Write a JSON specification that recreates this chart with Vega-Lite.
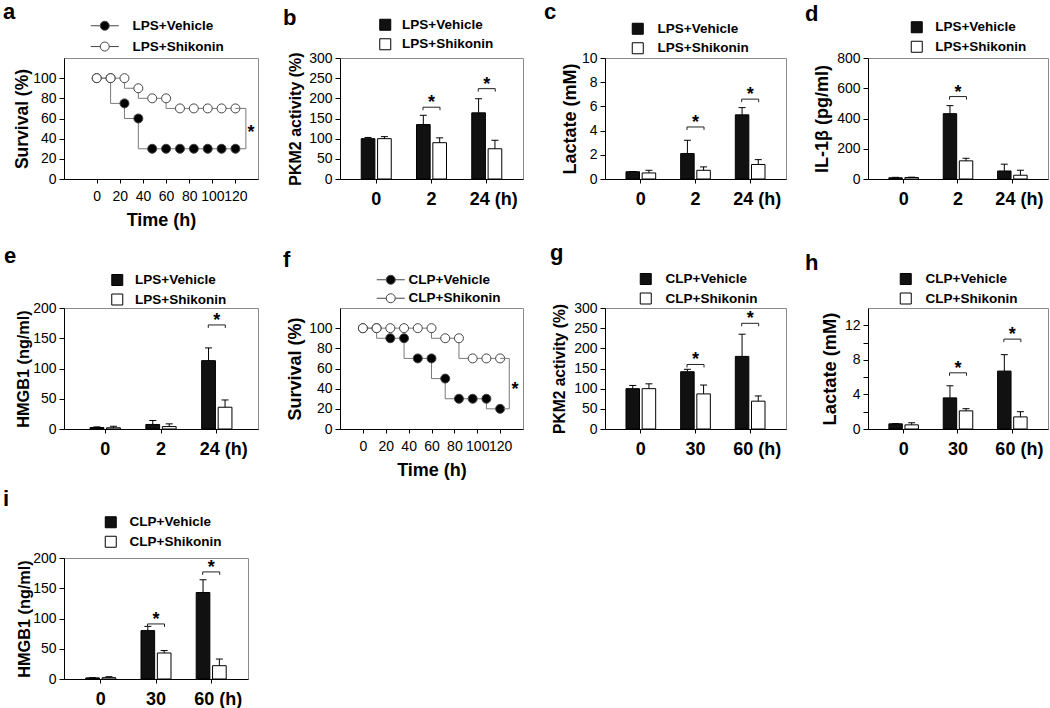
{
  "$schema": "https://vega.github.io/schema/vega-lite/v6.json",
  "padding": {"left": 2, "top": 0, "right": 0, "bottom": 0},
  "background": "white",
  "config": {
    "font": "Liberation Sans",
    "view": {"stroke": "#8a8a8a", "strokeWidth": 1},
    "axis": {"domainColor": "#000000", "tickColor": "#000000", "labelColor": "#000000", "titleColor": "#000000", "titleFontWeight": "bold", "grid": false, "labelFontSize": 14, "tickSize": 5, "labelPadding": 3, "domainWidth": 1, "tickWidth": 1, "labelOverlap": false},
    "title": {"fontSize": 22, "fontWeight": "bold", "anchor": "start", "frame": "group", "color": "#000000", "baseline": "alphabetic"},
    "legend": {"labelFontSize": 13.5, "labelFontWeight": "bold", "labelColor": "#000000", "padding": 0, "symbolStrokeColor": "#000000", "symbolStrokeWidth": 1, "symbolOpacity": 1}
  },
  "resolve": {"scale": {"fill": "independent", "xOffset": "independent"}, "legend": {"fill": "independent"}},
  "columns": 4,
  "align": "each",
  "bounds": "flush",
  "spacing": {"row": 129, "column": 82},
  "concat": [
    {
      "title": {"text": "a", "dx": -61, "offset": -5},
      "width": 194, "height": 121,
      "layer": [
        {
          "data": {"values": [
            {"t": 0, "s": 100, "group": "LPS+Vehicle"}, {"t": 12, "s": 100, "group": "LPS+Vehicle"}, {"t": 24, "s": 75, "group": "LPS+Vehicle"}, {"t": 36, "s": 60, "group": "LPS+Vehicle"}, {"t": 48, "s": 30, "group": "LPS+Vehicle"}, {"t": 60, "s": 30, "group": "LPS+Vehicle"}, {"t": 72, "s": 30, "group": "LPS+Vehicle"}, {"t": 84, "s": 30, "group": "LPS+Vehicle"}, {"t": 96, "s": 30, "group": "LPS+Vehicle"}, {"t": 108, "s": 30, "group": "LPS+Vehicle"}, {"t": 120, "s": 30, "group": "LPS+Vehicle"},
            {"t": 0, "s": 100, "group": "LPS+Shikonin"}, {"t": 12, "s": 100, "group": "LPS+Shikonin"}, {"t": 24, "s": 100, "group": "LPS+Shikonin"}, {"t": 36, "s": 90, "group": "LPS+Shikonin"}, {"t": 48, "s": 80, "group": "LPS+Shikonin"}, {"t": 60, "s": 80, "group": "LPS+Shikonin"}, {"t": 72, "s": 70, "group": "LPS+Shikonin"}, {"t": 84, "s": 70, "group": "LPS+Shikonin"}, {"t": 96, "s": 70, "group": "LPS+Shikonin"}, {"t": 108, "s": 70, "group": "LPS+Shikonin"}, {"t": 120, "s": 70, "group": "LPS+Shikonin"}
          ]},
          "layer": [
            {
              "mark": {"type": "line", "interpolate": "step-before", "color": "#7a7a7a", "strokeWidth": 1},
              "encoding": {
                "x": {"field": "t", "type": "quantitative", "title": "Time (h)", "scale": {"domain": [-28.3, 139.5], "nice": false, "zero": false}, "axis": {"values": [0, 20, 40, 60, 80, 100, 120], "tickCount": 20, "format": "d", "labelOverlap": false, "labelFlush": false, "tickSize": 4, "labelPadding": 6, "titleFontSize": 18, "titlePadding": 8}},
                "y": {"field": "s", "type": "quantitative", "title": "Survival (%)", "scale": {"domain": [0, 120], "nice": false}, "axis": {"values": [0, 20, 40, 60, 80, 100], "tickCount": 20, "format": "d", "titleFontSize": 17.5, "titlePadding": 1}},
                "detail": {"field": "group"}
              }
            },
            {
              "mark": {"type": "point", "filled": true, "size": 81, "stroke": "#444444", "strokeWidth": 1, "opacity": 1},
              "encoding": {
                "x": {"field": "t", "type": "quantitative", "title": "Time (h)"},
                "y": {"field": "s", "type": "quantitative", "title": "Survival (%)"},
                "fill": {"field": "group", "type": "nominal", "scale": {"domain": ["LPS+Vehicle", "LPS+Shikonin"], "range": ["#000000", "#ffffff"]},
                  "legend": {"title": null, "orient": "none", "legendX": 34, "legendY": -39, "symbolType": "M-2.8,0H-0.9M0.9,0H2.8M-0.9,0A0.9,0.9,0,1,0,0.9,0A0.9,0.9,0,1,0,-0.9,0Z", "symbolSize": 100, "symbolStrokeColor": "#444444", "labelOffset": 21, "rowPadding": 5.8}}
              }
            }
          ]
        },
        {
          "data": {"values": [{"t": 120, "s": 70, "k": 1}, {"t": 129, "s": 70, "k": 2}, {"t": 129, "s": 30, "k": 3}, {"t": 124, "s": 30, "k": 4}]},
          "mark": {"type": "line", "color": "#7a7a7a", "strokeWidth": 1},
          "encoding": {"x": {"field": "t", "type": "quantitative", "title": "Time (h)"}, "y": {"field": "s", "type": "quantitative", "title": "Survival (%)"}, "order": {"field": "k", "type": "quantitative"}}
        },
        {
          "data": {"values": [{"t": 133.5, "s": 50}]},
          "mark": {"type": "text", "text": "*", "fontSize": 18, "fontWeight": "bold", "baseline": "middle", "dy": 4, "color": "#000000"},
          "encoding": {"x": {"field": "t", "type": "quantitative", "title": "Time (h)"}, "y": {"field": "s", "type": "quantitative", "title": "Survival (%)"}}
        }
      ]
    },
    {
      "title": {"text": "b", "dx": -57, "offset": -12},
      "width": 183, "height": 121,
      "layer": [
        {
          "data": {"values": [
            {"time": "0", "group": "LPS+Vehicle", "mean": 100, "hi": 103}, {"time": "0", "group": "LPS+Shikonin", "mean": 100, "hi": 105},
            {"time": "2", "group": "LPS+Vehicle", "mean": 135, "hi": 158}, {"time": "2", "group": "LPS+Shikonin", "mean": 90, "hi": 102},
            {"time": "24", "group": "LPS+Vehicle", "mean": 164, "hi": 199}, {"time": "24", "group": "LPS+Shikonin", "mean": 75, "hi": 96}
          ]},
          "layer": [
            {
              "mark": {"type": "bar", "stroke": "#000000", "strokeWidth": 1},
              "encoding": {
                "x": {"field": "time", "type": "nominal", "sort": null, "title": null, "scale": {"domain": ["0", "2", "24"], "paddingInner": 0.457, "paddingOuter": 0.384}, "axis": {"labelFontSize": 18, "labelFontWeight": "bold", "labelPadding": 7, "tickSize": 4, "labelAngle": 0, "labelExpr": "datum.value === '24' ? '24 (h)' : datum.label", "labelOffset": {"condition": {"test": "datum.value === '24'", "value": 7}, "value": 0}}},
                "xOffset": {"field": "group", "type": "nominal", "sort": null, "scale": {"domain": ["LPS+Vehicle", "LPS+Shikonin"], "paddingInner": 0.165, "paddingOuter": 0}},
                "y": {"field": "mean", "type": "quantitative", "title": "PKM2 activity (%)", "scale": {"domain": [0, 300], "nice": false}, "axis": {"values": [0, 50, 100, 150, 200, 250, 300], "tickCount": 20, "format": "d", "titleFontSize": 16, "titlePadding": 5}},
                "fill": {"field": "group", "type": "nominal", "sort": null, "scale": {"domain": ["LPS+Vehicle", "LPS+Shikonin"], "range": ["#111111", "#ffffff"]},
                  "legend": {"title": null, "orient": "none", "legendX": 38.5, "legendY": -40, "symbolType": "square", "symbolSize": 121, "labelOffset": 10, "rowPadding": 3.5}}
              }
            },
            {
              "mark": {"type": "rule", "color": "#000000", "strokeWidth": 1},
              "encoding": {"x": {"field": "time", "type": "nominal", "sort": null, "title": null}, "xOffset": {"field": "group", "type": "nominal", "sort": null}, "y": {"field": "mean", "type": "quantitative", "title": "PKM2 activity (%)"}, "y2": {"field": "hi"}}
            },
            {
              "mark": {"type": "point", "shape": "M-1,0H1", "size": 49, "color": "#000000", "strokeWidth": 1, "filled": false, "opacity": 1},
              "encoding": {"x": {"field": "time", "type": "nominal", "sort": null, "title": null}, "xOffset": {"field": "group", "type": "nominal", "sort": null}, "y": {"field": "hi", "type": "quantitative", "title": "PKM2 activity (%)"}}
            }
          ]
        },
        {
          "data": {"values": [{"time": "2", "sig": 178}, {"time": "24", "sig": 224}]},
          "layer": [
            {
              "mark": {"type": "point", "shape": "M-1,0.35V0H1V0.35", "size": 289, "color": "#222222", "strokeWidth": 1, "filled": false, "opacity": 1},
              "encoding": {"x": {"field": "time", "type": "nominal", "sort": null, "title": null}, "y": {"field": "sig", "type": "quantitative", "title": "PKM2 activity (%)"}}
            },
            {
              "mark": {"type": "text", "text": "*", "fontSize": 18, "fontWeight": "bold", "baseline": "alphabetic", "dy": 1, "color": "#000000"},
              "encoding": {"x": {"field": "time", "type": "nominal", "sort": null, "title": null}, "y": {"field": "sig", "type": "quantitative", "title": "PKM2 activity (%)"}}
            }
          ]
        }
      ]
    },
    {
      "title": {"text": "c", "dx": -61, "offset": -2.3},
      "width": 181, "height": 121,
      "layer": [
        {
          "data": {"values": [
            {"time": "0", "group": "LPS+Vehicle", "mean": 0.6, "hi": 0.62}, {"time": "0", "group": "LPS+Shikonin", "mean": 0.5, "hi": 0.72},
            {"time": "2", "group": "LPS+Vehicle", "mean": 2.1, "hi": 3.2}, {"time": "2", "group": "LPS+Shikonin", "mean": 0.72, "hi": 1.0},
            {"time": "24", "group": "LPS+Vehicle", "mean": 5.3, "hi": 5.9}, {"time": "24", "group": "LPS+Shikonin", "mean": 1.2, "hi": 1.6}
          ]},
          "layer": [
            {
              "mark": {"type": "bar", "stroke": "#000000", "strokeWidth": 1},
              "encoding": {
                "x": {"field": "time", "type": "nominal", "sort": null, "title": null, "scale": {"domain": ["0", "2", "24"], "paddingInner": 0.457, "paddingOuter": 0.384}, "axis": {"labelFontSize": 18, "labelFontWeight": "bold", "labelPadding": 7, "tickSize": 4, "labelAngle": 0, "labelExpr": "datum.value === '24' ? '24 (h)' : datum.label", "labelOffset": {"condition": {"test": "datum.value === '24'", "value": 7}, "value": 0}}},
                "xOffset": {"field": "group", "type": "nominal", "sort": null, "scale": {"domain": ["LPS+Vehicle", "LPS+Shikonin"], "paddingInner": 0.165, "paddingOuter": 0}},
                "y": {"field": "mean", "type": "quantitative", "title": "Lactate (mM)", "scale": {"domain": [0, 10], "nice": false}, "axis": {"values": [0, 2, 4, 6, 8, 10], "tickCount": 20, "format": "d", "titleFontSize": 18, "titlePadding": 2}},
                "fill": {"field": "group", "type": "nominal", "sort": null, "scale": {"domain": ["LPS+Vehicle", "LPS+Shikonin"], "range": ["#111111", "#ffffff"]},
                  "legend": {"title": null, "orient": "none", "legendX": 26, "legendY": -36, "symbolType": "square", "symbolSize": 121, "labelOffset": 13, "rowPadding": 3.5}}
              }
            },
            {
              "mark": {"type": "rule", "color": "#000000", "strokeWidth": 1},
              "encoding": {"x": {"field": "time", "type": "nominal", "sort": null, "title": null}, "xOffset": {"field": "group", "type": "nominal", "sort": null}, "y": {"field": "mean", "type": "quantitative", "title": "Lactate (mM)"}, "y2": {"field": "hi"}}
            },
            {
              "mark": {"type": "point", "shape": "M-1,0H1", "size": 49, "color": "#000000", "strokeWidth": 1, "filled": false, "opacity": 1},
              "encoding": {"x": {"field": "time", "type": "nominal", "sort": null, "title": null}, "xOffset": {"field": "group", "type": "nominal", "sort": null}, "y": {"field": "hi", "type": "quantitative", "title": "Lactate (mM)"}}
            }
          ]
        },
        {
          "data": {"values": [{"time": "2", "sig": 4.3}, {"time": "24", "sig": 6.6}]},
          "layer": [
            {
              "mark": {"type": "point", "shape": "M-1,0.35V0H1V0.35", "size": 289, "color": "#222222", "strokeWidth": 1, "filled": false, "opacity": 1},
              "encoding": {"x": {"field": "time", "type": "nominal", "sort": null, "title": null}, "y": {"field": "sig", "type": "quantitative", "title": "Lactate (mM)"}}
            },
            {
              "mark": {"type": "text", "text": "*", "fontSize": 18, "fontWeight": "bold", "baseline": "alphabetic", "dy": 1, "color": "#000000"},
              "encoding": {"x": {"field": "time", "type": "nominal", "sort": null, "title": null}, "y": {"field": "sig", "type": "quantitative", "title": "Lactate (mM)"}}
            }
          ]
        }
      ]
    },
    {
      "title": {"text": "d", "dx": -63, "offset": -5.8},
      "width": 180, "height": 121,
      "layer": [
        {
          "data": {"values": [
            {"time": "0", "group": "LPS+Vehicle", "mean": 8, "hi": 11}, {"time": "0", "group": "LPS+Shikonin", "mean": 10, "hi": 12},
            {"time": "2", "group": "LPS+Vehicle", "mean": 432, "hi": 485}, {"time": "2", "group": "LPS+Shikonin", "mean": 120, "hi": 137},
            {"time": "24", "group": "LPS+Vehicle", "mean": 53, "hi": 98}, {"time": "24", "group": "LPS+Shikonin", "mean": 25, "hi": 58}
          ]},
          "layer": [
            {
              "mark": {"type": "bar", "stroke": "#000000", "strokeWidth": 1},
              "encoding": {
                "x": {"field": "time", "type": "nominal", "sort": null, "title": null, "scale": {"domain": ["0", "2", "24"], "paddingInner": 0.457, "paddingOuter": 0.384}, "axis": {"labelFontSize": 18, "labelFontWeight": "bold", "labelPadding": 7, "tickSize": 4, "labelAngle": 0, "labelExpr": "datum.value === '24' ? '24 (h)' : datum.label", "labelOffset": {"condition": {"test": "datum.value === '24'", "value": 7}, "value": 0}}},
                "xOffset": {"field": "group", "type": "nominal", "sort": null, "scale": {"domain": ["LPS+Vehicle", "LPS+Shikonin"], "paddingInner": 0.165, "paddingOuter": 0}},
                "y": {"field": "mean", "type": "quantitative", "title": "IL-1β (pg/ml)", "scale": {"domain": [0, 800], "nice": false}, "axis": {"values": [0, 200, 400, 600, 800], "tickCount": 20, "format": "d", "titleFontSize": 18, "titlePadding": 5}},
                "fill": {"field": "group", "type": "nominal", "sort": null, "scale": {"domain": ["LPS+Vehicle", "LPS+Shikonin"], "range": ["#111111", "#ffffff"]},
                  "legend": {"title": null, "orient": "none", "legendX": 42, "legendY": -37.5, "symbolType": "square", "symbolSize": 121, "labelOffset": 11.7, "rowPadding": 3.5}}
              }
            },
            {
              "mark": {"type": "rule", "color": "#000000", "strokeWidth": 1},
              "encoding": {"x": {"field": "time", "type": "nominal", "sort": null, "title": null}, "xOffset": {"field": "group", "type": "nominal", "sort": null}, "y": {"field": "mean", "type": "quantitative", "title": "IL-1β (pg/ml)"}, "y2": {"field": "hi"}}
            },
            {
              "mark": {"type": "point", "shape": "M-1,0H1", "size": 49, "color": "#000000", "strokeWidth": 1, "filled": false, "opacity": 1},
              "encoding": {"x": {"field": "time", "type": "nominal", "sort": null, "title": null}, "xOffset": {"field": "group", "type": "nominal", "sort": null}, "y": {"field": "hi", "type": "quantitative", "title": "IL-1β (pg/ml)"}}
            }
          ]
        },
        {
          "data": {"values": [{"time": "2", "sig": 545}]},
          "layer": [
            {
              "mark": {"type": "point", "shape": "M-1,0.35V0H1V0.35", "size": 289, "color": "#222222", "strokeWidth": 1, "filled": false, "opacity": 1},
              "encoding": {"x": {"field": "time", "type": "nominal", "sort": null, "title": null}, "y": {"field": "sig", "type": "quantitative", "title": "IL-1β (pg/ml)"}}
            },
            {
              "mark": {"type": "text", "text": "*", "fontSize": 18, "fontWeight": "bold", "baseline": "alphabetic", "dy": 1, "color": "#000000"},
              "encoding": {"x": {"field": "time", "type": "nominal", "sort": null, "title": null}, "y": {"field": "sig", "type": "quantitative", "title": "IL-1β (pg/ml)"}}
            }
          ]
        }
      ]
    },
    {
      "title": {"text": "e", "dx": -60, "offset": 5.7},
      "width": 194, "height": 121,
      "layer": [
        {
          "data": {"values": [
            {"time": "0", "group": "LPS+Vehicle", "mean": 2.5, "hi": 3.5}, {"time": "0", "group": "LPS+Shikonin", "mean": 2, "hi": 4.5},
            {"time": "2", "group": "LPS+Vehicle", "mean": 7.5, "hi": 14}, {"time": "2", "group": "LPS+Shikonin", "mean": 4, "hi": 8.5},
            {"time": "24", "group": "LPS+Vehicle", "mean": 113, "hi": 134}, {"time": "24", "group": "LPS+Shikonin", "mean": 36, "hi": 48}
          ]},
          "layer": [
            {
              "mark": {"type": "bar", "stroke": "#000000", "strokeWidth": 1},
              "encoding": {
                "x": {"field": "time", "type": "nominal", "sort": null, "title": null, "scale": {"domain": ["0", "2", "24"], "paddingInner": 0.457, "paddingOuter": 0.467}, "axis": {"labelFontSize": 18, "labelFontWeight": "bold", "labelPadding": 7, "tickSize": 4, "labelAngle": 0, "labelExpr": "datum.value === '24' ? '24 (h)' : datum.label", "labelOffset": {"condition": {"test": "datum.value === '24'", "value": 7}, "value": 0}}},
                "xOffset": {"field": "group", "type": "nominal", "sort": null, "scale": {"domain": ["LPS+Vehicle", "LPS+Shikonin"], "paddingInner": 0.165, "paddingOuter": 0}},
                "y": {"field": "mean", "type": "quantitative", "title": "HMGB1 (ng/ml)", "scale": {"domain": [0, 200], "nice": false}, "axis": {"values": [0, 50, 100, 150, 200], "tickCount": 20, "format": "d", "titleFontSize": 16.3, "titlePadding": 1}},
                "fill": {"field": "group", "type": "nominal", "sort": null, "scale": {"domain": ["LPS+Vehicle", "LPS+Shikonin"], "range": ["#111111", "#ffffff"]},
                  "legend": {"title": null, "orient": "none", "legendX": 46.5, "legendY": -34.75, "symbolType": "square", "symbolSize": 121, "labelOffset": 11, "rowPadding": 3.5}}
              }
            },
            {
              "mark": {"type": "rule", "color": "#000000", "strokeWidth": 1},
              "encoding": {"x": {"field": "time", "type": "nominal", "sort": null, "title": null}, "xOffset": {"field": "group", "type": "nominal", "sort": null}, "y": {"field": "mean", "type": "quantitative", "title": "HMGB1 (ng/ml)"}, "y2": {"field": "hi"}}
            },
            {
              "mark": {"type": "point", "shape": "M-1,0H1", "size": 49, "color": "#000000", "strokeWidth": 1, "filled": false, "opacity": 1},
              "encoding": {"x": {"field": "time", "type": "nominal", "sort": null, "title": null}, "xOffset": {"field": "group", "type": "nominal", "sort": null}, "y": {"field": "hi", "type": "quantitative", "title": "HMGB1 (ng/ml)"}}
            }
          ]
        },
        {
          "data": {"values": [{"time": "24", "sig": 172}]},
          "layer": [
            {
              "mark": {"type": "point", "shape": "M-1,0.35V0H1V0.35", "size": 289, "color": "#222222", "strokeWidth": 1, "filled": false, "opacity": 1},
              "encoding": {"x": {"field": "time", "type": "nominal", "sort": null, "title": null}, "y": {"field": "sig", "type": "quantitative", "title": "HMGB1 (ng/ml)"}}
            },
            {
              "mark": {"type": "text", "text": "*", "fontSize": 18, "fontWeight": "bold", "baseline": "alphabetic", "dy": 1, "color": "#000000"},
              "encoding": {"x": {"field": "time", "type": "nominal", "sort": null, "title": null}, "y": {"field": "sig", "type": "quantitative", "title": "HMGB1 (ng/ml)"}}
            }
          ]
        }
      ]
    },
    {
      "title": {"text": "f", "dx": -57, "offset": 1.3},
      "width": 183, "height": 121,
      "layer": [
        {
          "data": {"values": [
            {"t": 0, "s": 100, "group": "CLP+Vehicle"}, {"t": 12, "s": 100, "group": "CLP+Vehicle"}, {"t": 24, "s": 90, "group": "CLP+Vehicle"}, {"t": 36, "s": 90, "group": "CLP+Vehicle"}, {"t": 48, "s": 70, "group": "CLP+Vehicle"}, {"t": 60, "s": 70, "group": "CLP+Vehicle"}, {"t": 72, "s": 50, "group": "CLP+Vehicle"}, {"t": 84, "s": 30, "group": "CLP+Vehicle"}, {"t": 96, "s": 30, "group": "CLP+Vehicle"}, {"t": 108, "s": 30, "group": "CLP+Vehicle"}, {"t": 120, "s": 20, "group": "CLP+Vehicle"},
            {"t": 0, "s": 100, "group": "CLP+Shikonin"}, {"t": 12, "s": 100, "group": "CLP+Shikonin"}, {"t": 24, "s": 100, "group": "CLP+Shikonin"}, {"t": 36, "s": 100, "group": "CLP+Shikonin"}, {"t": 48, "s": 100, "group": "CLP+Shikonin"}, {"t": 60, "s": 100, "group": "CLP+Shikonin"}, {"t": 72, "s": 90, "group": "CLP+Shikonin"}, {"t": 84, "s": 90, "group": "CLP+Shikonin"}, {"t": 96, "s": 70, "group": "CLP+Shikonin"}, {"t": 108, "s": 70, "group": "CLP+Shikonin"}, {"t": 120, "s": 70, "group": "CLP+Shikonin"}
          ]},
          "layer": [
            {
              "mark": {"type": "line", "interpolate": "step-before", "color": "#7a7a7a", "strokeWidth": 1},
              "encoding": {
                "x": {"field": "t", "type": "quantitative", "title": "Time (h)", "scale": {"domain": [-20, 140], "nice": false, "zero": false}, "axis": {"values": [0, 20, 40, 60, 80, 100, 120], "tickCount": 20, "format": "d", "labelOverlap": false, "labelFlush": false, "tickSize": 4, "labelPadding": 6, "titleFontSize": 18, "titlePadding": 8}},
                "y": {"field": "s", "type": "quantitative", "title": "Survival (%)", "scale": {"domain": [0, 120], "nice": false}, "axis": {"values": [0, 20, 40, 60, 80, 100], "tickCount": 20, "format": "d", "titleFontSize": 18, "titlePadding": 4.5}},
                "detail": {"field": "group"}
              }
            },
            {
              "mark": {"type": "point", "filled": true, "size": 81, "stroke": "#444444", "strokeWidth": 1, "opacity": 1},
              "encoding": {
                "x": {"field": "t", "type": "quantitative", "title": "Time (h)"},
                "y": {"field": "s", "type": "quantitative", "title": "Survival (%)"},
                "fill": {"field": "group", "type": "nominal", "scale": {"domain": ["CLP+Vehicle", "CLP+Shikonin"], "range": ["#000000", "#ffffff"]},
                  "legend": {"title": null, "orient": "none", "legendX": 44, "legendY": -35, "symbolType": "M-2.8,0H-0.9M0.9,0H2.8M-0.9,0A0.9,0.9,0,1,0,0.9,0A0.9,0.9,0,1,0,-0.9,0Z", "symbolSize": 100, "symbolStrokeColor": "#444444", "labelOffset": 11, "rowPadding": 3.5}}
              }
            }
          ]
        },
        {
          "data": {"values": [{"t": 120, "s": 70, "k": 1}, {"t": 128, "s": 70, "k": 2}, {"t": 128, "s": 20, "k": 3}, {"t": 123, "s": 20, "k": 4}]},
          "mark": {"type": "line", "color": "#7a7a7a", "strokeWidth": 1},
          "encoding": {"x": {"field": "t", "type": "quantitative", "title": "Time (h)"}, "y": {"field": "s", "type": "quantitative", "title": "Survival (%)"}, "order": {"field": "k", "type": "quantitative"}}
        },
        {
          "data": {"values": [{"t": 133, "s": 43}]},
          "mark": {"type": "text", "text": "*", "fontSize": 18, "fontWeight": "bold", "baseline": "middle", "dy": 4, "color": "#000000"},
          "encoding": {"x": {"field": "t", "type": "quantitative", "title": "Time (h)"}, "y": {"field": "s", "type": "quantitative", "title": "Survival (%)"}}
        }
      ]
    },
    {
      "title": {"text": "g", "dx": -55, "offset": 7},
      "width": 181, "height": 121,
      "layer": [
        {
          "data": {"values": [
            {"time": "0", "group": "CLP+Vehicle", "mean": 100, "hi": 108}, {"time": "0", "group": "CLP+Shikonin", "mean": 100, "hi": 112},
            {"time": "30", "group": "CLP+Vehicle", "mean": 142, "hi": 148}, {"time": "30", "group": "CLP+Shikonin", "mean": 87, "hi": 109},
            {"time": "60", "group": "CLP+Vehicle", "mean": 180, "hi": 235}, {"time": "60", "group": "CLP+Shikonin", "mean": 69, "hi": 82}
          ]},
          "layer": [
            {
              "mark": {"type": "bar", "stroke": "#000000", "strokeWidth": 1},
              "encoding": {
                "x": {"field": "time", "type": "nominal", "sort": null, "title": null, "scale": {"domain": ["0", "30", "60"], "paddingInner": 0.457, "paddingOuter": 0.384}, "axis": {"labelFontSize": 18, "labelFontWeight": "bold", "labelPadding": 7, "tickSize": 4, "labelAngle": 0, "labelExpr": "datum.value === '60' ? '60 (h)' : datum.label", "labelOffset": {"condition": {"test": "datum.value === '60'", "value": 7}, "value": 0}}},
                "xOffset": {"field": "group", "type": "nominal", "sort": null, "scale": {"domain": ["CLP+Vehicle", "CLP+Shikonin"], "paddingInner": 0.165, "paddingOuter": 0}},
                "y": {"field": "mean", "type": "quantitative", "title": "PKM2 activity (%)", "scale": {"domain": [0, 300], "nice": false}, "axis": {"values": [0, 50, 100, 150, 200, 250, 300], "tickCount": 20, "format": "d", "titleFontSize": 15.6, "titlePadding": 6.5}},
                "fill": {"field": "group", "type": "nominal", "sort": null, "scale": {"domain": ["CLP+Vehicle", "CLP+Shikonin"], "range": ["#111111", "#ffffff"]},
                  "legend": {"title": null, "orient": "none", "legendX": 34, "legendY": -35.75, "symbolType": "square", "symbolSize": 121, "labelOffset": 13, "rowPadding": 3.5}}
              }
            },
            {
              "mark": {"type": "rule", "color": "#000000", "strokeWidth": 1},
              "encoding": {"x": {"field": "time", "type": "nominal", "sort": null, "title": null}, "xOffset": {"field": "group", "type": "nominal", "sort": null}, "y": {"field": "mean", "type": "quantitative", "title": "PKM2 activity (%)"}, "y2": {"field": "hi"}}
            },
            {
              "mark": {"type": "point", "shape": "M-1,0H1", "size": 49, "color": "#000000", "strokeWidth": 1, "filled": false, "opacity": 1},
              "encoding": {"x": {"field": "time", "type": "nominal", "sort": null, "title": null}, "xOffset": {"field": "group", "type": "nominal", "sort": null}, "y": {"field": "hi", "type": "quantitative", "title": "PKM2 activity (%)"}}
            }
          ]
        },
        {
          "data": {"values": [{"time": "30", "sig": 160}, {"time": "60", "sig": 262}]},
          "layer": [
            {
              "mark": {"type": "point", "shape": "M-1,0.35V0H1V0.35", "size": 289, "color": "#222222", "strokeWidth": 1, "filled": false, "opacity": 1},
              "encoding": {"x": {"field": "time", "type": "nominal", "sort": null, "title": null}, "y": {"field": "sig", "type": "quantitative", "title": "PKM2 activity (%)"}}
            },
            {
              "mark": {"type": "text", "text": "*", "fontSize": 18, "fontWeight": "bold", "baseline": "alphabetic", "dy": 1, "color": "#000000"},
              "encoding": {"x": {"field": "time", "type": "nominal", "sort": null, "title": null}, "y": {"field": "sig", "type": "quantitative", "title": "PKM2 activity (%)"}}
            }
          ]
        }
      ]
    },
    {
      "title": {"text": "h", "dx": -63, "offset": -3},
      "width": 180, "height": 121,
      "layer": [
        {
          "data": {"values": [
            {"time": "0", "group": "CLP+Vehicle", "mean": 0.6, "hi": 0.62}, {"time": "0", "group": "CLP+Shikonin", "mean": 0.48, "hi": 0.72},
            {"time": "30", "group": "CLP+Vehicle", "mean": 3.6, "hi": 5.0}, {"time": "30", "group": "CLP+Shikonin", "mean": 2.1, "hi": 2.35},
            {"time": "60", "group": "CLP+Vehicle", "mean": 6.7, "hi": 8.6}, {"time": "60", "group": "CLP+Shikonin", "mean": 1.4, "hi": 2.0}
          ]},
          "layer": [
            {
              "mark": {"type": "bar", "stroke": "#000000", "strokeWidth": 1},
              "encoding": {
                "x": {"field": "time", "type": "nominal", "sort": null, "title": null, "scale": {"domain": ["0", "30", "60"], "paddingInner": 0.457, "paddingOuter": 0.384}, "axis": {"labelFontSize": 18, "labelFontWeight": "bold", "labelPadding": 7, "tickSize": 4, "labelAngle": 0, "labelExpr": "datum.value === '60' ? '60 (h)' : datum.label", "labelOffset": {"condition": {"test": "datum.value === '60'", "value": 7}, "value": 0}}},
                "xOffset": {"field": "group", "type": "nominal", "sort": null, "scale": {"domain": ["CLP+Vehicle", "CLP+Shikonin"], "paddingInner": 0.165, "paddingOuter": 0}},
                "y": {"field": "mean", "type": "quantitative", "title": "Lactate (mM)", "scale": {"domain": [0, 14], "nice": false}, "axis": {"values": [0, 2, 4, 6, 8, 10, 12], "tickCount": 20, "format": "d", "labelExpr": "datum.value % 4 === 0 ? datum.label : ''", "titleFontSize": 18.3, "titlePadding": 5}},
                "fill": {"field": "group", "type": "nominal", "sort": null, "scale": {"domain": ["CLP+Vehicle", "CLP+Shikonin"], "range": ["#111111", "#ffffff"]},
                  "legend": {"title": null, "orient": "none", "legendX": 31, "legendY": -35.75, "symbolType": "square", "symbolSize": 121, "labelOffset": 13, "rowPadding": 3.5}}
              }
            },
            {
              "mark": {"type": "rule", "color": "#000000", "strokeWidth": 1},
              "encoding": {"x": {"field": "time", "type": "nominal", "sort": null, "title": null}, "xOffset": {"field": "group", "type": "nominal", "sort": null}, "y": {"field": "mean", "type": "quantitative", "title": "Lactate (mM)"}, "y2": {"field": "hi"}}
            },
            {
              "mark": {"type": "point", "shape": "M-1,0H1", "size": 49, "color": "#000000", "strokeWidth": 1, "filled": false, "opacity": 1},
              "encoding": {"x": {"field": "time", "type": "nominal", "sort": null, "title": null}, "xOffset": {"field": "group", "type": "nominal", "sort": null}, "y": {"field": "hi", "type": "quantitative", "title": "Lactate (mM)"}}
            }
          ]
        },
        {
          "data": {"values": [{"time": "30", "sig": 6.5}, {"time": "60", "sig": 10.4}]},
          "layer": [
            {
              "mark": {"type": "point", "shape": "M-1,0.35V0H1V0.35", "size": 289, "color": "#222222", "strokeWidth": 1, "filled": false, "opacity": 1},
              "encoding": {"x": {"field": "time", "type": "nominal", "sort": null, "title": null}, "y": {"field": "sig", "type": "quantitative", "title": "Lactate (mM)"}}
            },
            {
              "mark": {"type": "text", "text": "*", "fontSize": 18, "fontWeight": "bold", "baseline": "alphabetic", "dy": 1, "color": "#000000"},
              "encoding": {"x": {"field": "time", "type": "nominal", "sort": null, "title": null}, "y": {"field": "sig", "type": "quantitative", "title": "Lactate (mM)"}}
            }
          ]
        }
      ]
    },
    {
      "title": {"text": "i", "dx": -61, "offset": 5},
      "width": 184, "height": 121,
      "layer": [
        {
          "data": {"values": [
            {"time": "0", "group": "CLP+Vehicle", "mean": 1.8, "hi": 2.2}, {"time": "0", "group": "CLP+Shikonin", "mean": 2.2, "hi": 3.8},
            {"time": "30", "group": "CLP+Vehicle", "mean": 80, "hi": 87}, {"time": "30", "group": "CLP+Shikonin", "mean": 43, "hi": 47},
            {"time": "60", "group": "CLP+Vehicle", "mean": 143, "hi": 164}, {"time": "60", "group": "CLP+Shikonin", "mean": 22, "hi": 33}
          ]},
          "layer": [
            {
              "mark": {"type": "bar", "stroke": "#000000", "strokeWidth": 1},
              "encoding": {
                "x": {"field": "time", "type": "nominal", "sort": null, "title": null, "scale": {"domain": ["0", "30", "60"], "paddingInner": 0.457, "paddingOuter": 0.395}, "axis": {"labelFontSize": 18, "labelFontWeight": "bold", "labelPadding": 7, "tickSize": 4, "labelAngle": 0, "labelExpr": "datum.value === '60' ? '60 (h)' : datum.label", "labelOffset": {"condition": {"test": "datum.value === '60'", "value": 7}, "value": 0}}},
                "xOffset": {"field": "group", "type": "nominal", "sort": null, "scale": {"domain": ["CLP+Vehicle", "CLP+Shikonin"], "paddingInner": 0.165, "paddingOuter": 0}},
                "y": {"field": "mean", "type": "quantitative", "title": "HMGB1 (ng/ml)", "scale": {"domain": [0, 200], "nice": false}, "axis": {"values": [0, 50, 100, 150, 200], "tickCount": 20, "format": "d", "titleFontSize": 16.3, "titlePadding": 0}},
                "fill": {"field": "group", "type": "nominal", "sort": null, "scale": {"domain": ["CLP+Vehicle", "CLP+Shikonin"], "range": ["#111111", "#ffffff"]},
                  "legend": {"title": null, "orient": "none", "legendX": 40, "legendY": -42.5, "symbolType": "square", "symbolSize": 121, "labelOffset": 12, "rowPadding": 3.5}}
              }
            },
            {
              "mark": {"type": "rule", "color": "#000000", "strokeWidth": 1},
              "encoding": {"x": {"field": "time", "type": "nominal", "sort": null, "title": null}, "xOffset": {"field": "group", "type": "nominal", "sort": null}, "y": {"field": "mean", "type": "quantitative", "title": "HMGB1 (ng/ml)"}, "y2": {"field": "hi"}}
            },
            {
              "mark": {"type": "point", "shape": "M-1,0H1", "size": 49, "color": "#000000", "strokeWidth": 1, "filled": false, "opacity": 1},
              "encoding": {"x": {"field": "time", "type": "nominal", "sort": null, "title": null}, "xOffset": {"field": "group", "type": "nominal", "sort": null}, "y": {"field": "hi", "type": "quantitative", "title": "HMGB1 (ng/ml)"}}
            }
          ]
        },
        {
          "data": {"values": [{"time": "30", "sig": 91}, {"time": "60", "sig": 177}]},
          "layer": [
            {
              "mark": {"type": "point", "shape": "M-1,0.35V0H1V0.35", "size": 289, "color": "#222222", "strokeWidth": 1, "filled": false, "opacity": 1},
              "encoding": {"x": {"field": "time", "type": "nominal", "sort": null, "title": null}, "y": {"field": "sig", "type": "quantitative", "title": "HMGB1 (ng/ml)"}}
            },
            {
              "mark": {"type": "text", "text": "*", "fontSize": 18, "fontWeight": "bold", "baseline": "alphabetic", "dy": 1, "color": "#000000"},
              "encoding": {"x": {"field": "time", "type": "nominal", "sort": null, "title": null}, "y": {"field": "sig", "type": "quantitative", "title": "HMGB1 (ng/ml)"}}
            }
          ]
        }
      ]
    }
  ]
}
